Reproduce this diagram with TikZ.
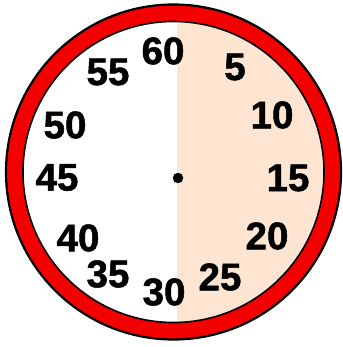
\documentclass[tikz,border=0pt]{standalone}
\usepackage{fontspec}
\setmainfont{Liberation Sans}
\newfontfamily\numfont{Liberation Sans Bold}[FakeBold=1.3]
\definecolor{ringred}{HTML}{F40000}
\definecolor{peach}{HTML}{FDE5D2}
\begin{document}
\begin{tikzpicture}[x=1pt,y=-1pt,
  num/.style={inner sep=0pt,font=\numfont\fontsize{38.5}{38.5}\selectfont}]
\useasboundingbox (0,0) rectangle (342,347);
\fill[white] (0,0) rectangle (342,347);
\coordinate (c) at (173.5,172);
% peach half
\begin{scope}
  \clip (c) circle[radius=150];
  \fill[peach] (176.5,0) rectangle (342,347);
\end{scope}
% ring
\draw[ringred,line width=17pt] (c) circle[radius=159.3];
\draw[black,line width=2.2pt] (c) circle[radius=167.5];
\draw[black,line width=1.6pt] (c) circle[radius=150.5];
% center dot
\node[circle,fill=black,inner sep=0pt,minimum size=10.5pt] (dot) at (178,178) {};
% numbers
\node[num] (n60) at (163,51) {60};
\node[num] (n5) at (235,67) {5};
\node[num] (n10) at (272,115) {10};
\node[num] (n15) at (288,178) {15};
\node[num] (n20) at (267,236) {20};
\node[num] (n25) at (220,277) {25};
\node[num] (n30) at (164,292) {30};
\node[num] (n35) at (108,274) {35};
\node[num] (n40) at (78,238) {40};
\node[num] (n45) at (57,177.5) {45};
\node[num] (n50) at (65,125) {50};
\node[num] (n55) at (108,72) {55};
\end{tikzpicture}
\end{document}
